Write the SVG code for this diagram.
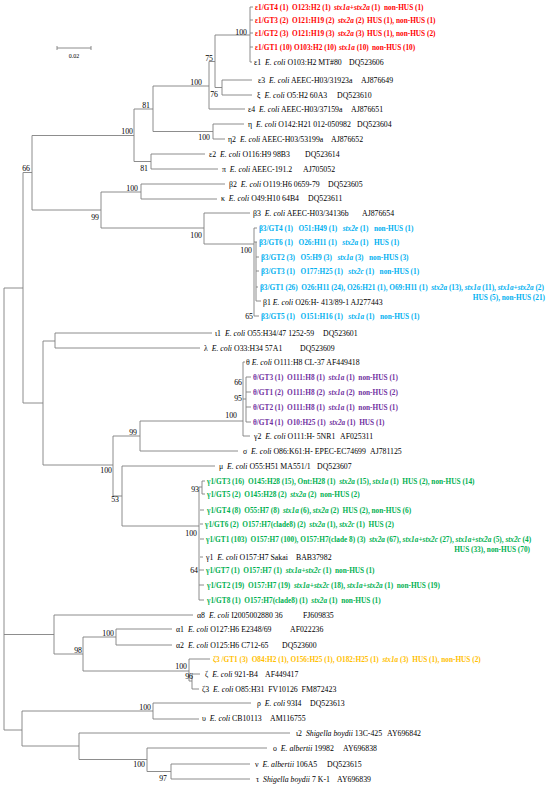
<svg xmlns="http://www.w3.org/2000/svg" width="550" height="789" viewBox="0 0 550 789">
<style>
.t{font-family:"Liberation Serif","Times New Roman",serif;font-size:7.8px;fill:#000}
.c{font-weight:bold;font-size:7.3px}
.i{font-style:italic}
.r{fill:#ff0000}.b{fill:#00b0f0}.p{fill:#7030a0}.g{fill:#00b050}.o{fill:#ffc000}
.bs{font-family:"Liberation Serif","Times New Roman",serif;font-size:7.8px;fill:#000;text-anchor:end}
.tree{fill:none;stroke:#808080;stroke-width:0.9}
</style>
<rect width="550" height="789" fill="#fff"/>
<g id="scale">
<path class="tree" d="M57 48H91M57 46V50M91 46V50"/>
<text x="74" y="58" class="t" style="font-size:6px" text-anchor="middle">0.02</text>
</g>
<g id="connectors" class="tree">
<path d="M4 288V730M4 288H23M4 634.5H54M4 730H22"/>
<path d="M23 172.5V403M23 172.5H32M23 403H43"/>
<path d="M32 135.5V210M32 135.5H134M32 210H101"/>
<path d="M134 109V161.5M134 109H153M134 161.5H151"/>
<path d="M153 86V131.5M153 86H209M153 131.5H213"/>
<path d="M209 61.5V109M209 61.5H215M209 109H245"/>
<path d="M215 35V87.5M215 35H250M215 87.5H222"/>
<path d="M250 7V62M250 7H253M250 20H253M250 33H253M250 47H253M250 62H252"/>
<path d="M222 80V95M222 80H252M222 95H252"/>
<path d="M213 124V139M213 124H244M213 139H225"/>
<path d="M151 154V169M151 154H205M151 169H218"/>
<path d="M101 192V228M101 192H141M101 228H204"/>
<path d="M141 184V199M141 184H225M141 199H217"/>
<path d="M204 213V244M204 213H250M204 244H254"/>
<path d="M254 228V316M254 228H257M256 242V301M254 242H257M256 257H259M256 271H259M256 287H258M256 301H261M254 316H259"/>
<path d="M43 341V465M43 341H55M43 465H113"/>
<path d="M55 333V348M55 333H212M55 348H200"/>
<path d="M113 436V496M113 436H140M113 496H122"/>
<path d="M140 421V451M140 421H243M140 451H238"/>
<path d="M243 362V436M243 362H245M243 436H250M243 399H246M246 377V422M246 377H251M246 392H251M246 407H251M246 422H251"/>
<path d="M122 466V526M122 466H215M122 526H199"/>
<path d="M199 487V600M199 487H202M202 481V494M202 481H205M202 494H205M200 510H204M200 524H203M200 539H204M200 557H203M199 570H204M199 585H204M199 600H204"/>
<path d="M54 615V654M54 615H193M54 654H83"/>
<path d="M83 637V671M83 637H116M83 671H189"/>
<path d="M116 629V645M116 629H172M116 645H172"/>
<path d="M189 659V681M189 659H210M189 681H192"/>
<path d="M192 674V689M192 674H200M192 689H199"/>
<path d="M22 711V746M22 711H153M22 746H79"/>
<path d="M153 703V719M153 703H251M153 719H199"/>
<path d="M79 733V759.5M79 733H290M79 759.5H147"/>
<path d="M147 748V771.5M147 748H267M147 771.5H171"/>
<path d="M171 764V779M171 764H250M171 779H250"/>
</g>
<g id="bootstrap">
<text class="bs" x="247" y="35">100</text>
<text class="bs" x="213" y="61">75</text>
<text class="bs" x="218" y="97">76</text>
<text class="bs" x="202" y="85">100</text>
<text class="bs" x="150" y="108">81</text>
<text class="bs" x="210" y="140">100</text>
<text class="bs" x="133" y="134">100</text>
<text class="bs" x="148" y="171">81</text>
<text class="bs" x="30" y="171">66</text>
<text class="bs" x="138" y="191">100</text>
<text class="bs" x="99" y="220">99</text>
<text class="bs" x="202" y="238">100</text>
<text class="bs" x="252" y="253">100</text>
<text class="bs" x="253" y="319">65</text>
<text class="bs" x="242" y="385">66</text>
<text class="bs" x="242" y="401">95</text>
<text class="bs" x="237" y="418">100</text>
<text class="bs" x="137" y="435">99</text>
<text class="bs" x="112" y="473">100</text>
<text class="bs" x="119" y="502">53</text>
<text class="bs" x="199" y="492">93</text>
<text class="bs" x="197" y="536">100</text>
<text class="bs" x="198" y="573">64</text>
<text class="bs" x="114" y="636">100</text>
<text class="bs" x="82" y="653">98</text>
<text class="bs" x="187" y="669">100</text>
<text class="bs" x="193" y="679">96</text>
<text class="bs" x="151" y="710">100</text>
<text class="bs" x="145" y="767">100</text>
<text class="bs" x="167" y="781">97</text>
</g>
<g id="eps1_GT4"><text class="t c r" y="10"><tspan x="255">ε1/GT4 (1)</tspan><tspan x="292">O123:H2 (1)</tspan><tspan x="334"><tspan class="i">stx1a+stx2a</tspan> (1)</tspan><tspan x="384">non-HUS (1)</tspan></text></g>
<g id="eps1_GT3"><text class="t c r" y="23"><tspan x="255">ε1/GT3 (2)</tspan><tspan x="292">O121:H19 (2)</tspan><tspan x="338"><tspan class="i">stx2a</tspan> (2)</tspan><tspan x="367">HUS (1), non-HUS (1)</tspan></text></g>
<g id="eps1_GT2"><text class="t c r" y="36"><tspan x="255">ε1/GT2 (3)</tspan><tspan x="292">O121:H19 (3)</tspan><tspan x="338"><tspan class="i">stx2a</tspan> (3)</tspan><tspan x="367">HUS (1), non-HUS (2)</tspan></text></g>
<g id="eps1_GT1"><text class="t c r" y="50"><tspan x="255">ε1/GT1 (10)</tspan><tspan x="294">O103:H2 (10)</tspan><tspan x="339"><tspan class="i">stx1a</tspan> (10)</tspan><tspan x="372">non-HUS (10)</tspan></text></g>
<g id="eps1"><text class="t" xml:space="preserve" x="254" y="65">ε1  <tspan class="i">E. coli</tspan> O103:H2 MT#80<tspan x="349">DQ523606</tspan></text></g>
<g id="eps3"><text class="t" xml:space="preserve" x="258" y="83">ε3  <tspan class="i">E. coli</tspan> AEEC-H03/31923a<tspan x="361">AJ876649</tspan></text></g>
<g id="xi"><text class="t" xml:space="preserve" x="257" y="98">ξ  <tspan class="i">E. coli</tspan> O5:H2 60A3<tspan x="337">DQ523610</tspan></text></g>
<g id="eps4"><text class="t" xml:space="preserve" x="248" y="112">ε4  <tspan class="i">E. coli</tspan> AEEC-H03/37159a<tspan x="351">AJ876651</tspan></text></g>
<g id="eta"><text class="t" xml:space="preserve" x="248" y="127">η  <tspan class="i">E. coli</tspan> O142:H21 012-050982<tspan x="357">DQ523604</tspan></text></g>
<g id="eta2"><text class="t" xml:space="preserve" x="228" y="142">η2  <tspan class="i">E. coli</tspan> AEEC-H03/53199a<tspan x="331">AJ876652</tspan></text></g>
<g id="eps2"><text class="t" xml:space="preserve" x="209" y="157">ε2  <tspan class="i">E. coli</tspan> O116:H9 98B3<tspan x="305">DQ523614</tspan></text></g>
<g id="pi"><text class="t" xml:space="preserve" x="222" y="172">π  <tspan class="i">E. coli</tspan> AEEC-191.2<tspan x="303">AJ705052</tspan></text></g>
<g id="beta2"><text class="t" xml:space="preserve" x="229" y="187">β2  <tspan class="i">E. coli</tspan> O119:H6 0659-79<tspan x="328">DQ523605</tspan></text></g>
<g id="kappa"><text class="t" xml:space="preserve" x="221" y="201">κ  <tspan class="i">E. coli</tspan> O49:H10 64B4<tspan x="308">DQ523611</tspan></text></g>
<g id="beta3"><text class="t" xml:space="preserve" x="253" y="216">β3  <tspan class="i">E. coli</tspan> AEEC-H03/34136b<tspan x="362">AJ876654</tspan></text></g>
<g id="beta3_GT4"><text class="t c b" xml:space="preserve" x="259" y="231">β3/GT4 (1)   O51:H49 (1)   <tspan class="i">stx2e</tspan> (1)   non-HUS (1)</text></g>
<g id="beta3_GT6"><text class="t c b" xml:space="preserve" x="259" y="245">β3/GT6 (1)   O26:H11 (1)   <tspan class="i">stx2a</tspan> (1)   HUS (1)</text></g>
<g id="beta3_GT2"><text class="t c b" xml:space="preserve" x="261" y="260">β3/GT2 (3)   O5:H9 (3)   <tspan class="i">stx1a</tspan> (3)   non-HUS (3)</text></g>
<g id="beta3_GT3"><text class="t c b" xml:space="preserve" x="261" y="274">β3/GT3 (1)   O177:H25 (1)   <tspan class="i">stx2c</tspan> (1)   non-HUS (1)</text></g>
<g id="beta3_GT1"><text class="t c b" xml:space="preserve" x="260" y="290">β3/GT1 (26)  O26:H11 (24), O26:H21 (1), O69:H11 (1)  <tspan class="i">stx2a</tspan> (13), <tspan class="i">stx1a</tspan> (11), <tspan class="i">stx1a+stx2a</tspan> (2)</text>
<text class="t c b" x="545" y="300" text-anchor="end">HUS (5), non-HUS (21)</text></g>
<g id="beta1"><text class="t" xml:space="preserve" x="263" y="305">β1 <tspan class="i">E. coli</tspan> O26:H- 413/89-1 AJ277443</text></g>
<g id="beta3_GT5"><text class="t c b" xml:space="preserve" x="261" y="319">β3/GT5 (1)   O151:H16 (1)   <tspan class="i">stx1a</tspan> (1)   non-HUS (1)</text></g>
<g id="iota1"><text class="t" xml:space="preserve" x="215" y="336">ι1  <tspan class="i">E. coli</tspan> O55:H34/47 1252-59<tspan x="323">DQ523601</tspan></text></g>
<g id="lambda"><text class="t" xml:space="preserve" x="204" y="351">λ  <tspan class="i">E. coli</tspan> O33:H34 57A1<tspan x="300">DQ523609</tspan></text></g>
<g id="theta"><text class="t" xml:space="preserve" x="246" y="365">θ <tspan class="i">E. coli</tspan> O111:H8 CL-37 AF449418</text></g>
<g id="theta_GT3"><text class="t c p" xml:space="preserve" x="253" y="380">θ/GT3 (1)  O111:H8 (1)  <tspan class="i">stx1a</tspan> (1)  non-HUS (1)</text></g>
<g id="theta_GT1"><text class="t c p" xml:space="preserve" x="253" y="395">θ/GT1 (2)  O111:H8 (2)  <tspan class="i">stx1a</tspan> (2)  non-HUS (2)</text></g>
<g id="theta_GT2"><text class="t c p" xml:space="preserve" x="253" y="410">θ/GT2 (1)  O111:H8 (1)  <tspan class="i">stx1a</tspan> (1)  non-HUS (1)</text></g>
<g id="theta_GT4"><text class="t c p" xml:space="preserve" x="253" y="425">θ/GT4 (1)  O10:H25 (1)  <tspan class="i">stx2a</tspan> (1)  HUS (1)</text></g>
<g id="gamma2"><text class="t" xml:space="preserve" x="254" y="439">γ2  <tspan class="i">E. coli</tspan> O111:H- 5NR1<tspan x="340">AF025311</tspan></text></g>
<g id="sigma"><text class="t" xml:space="preserve" x="243" y="454">σ  <tspan class="i">E. coli</tspan> O86:K61:H- EPEC-EC74699<tspan x="370">AJ781125</tspan></text></g>
<g id="mu"><text class="t" xml:space="preserve" x="219" y="469">μ  <tspan class="i">E. coli</tspan> O55:H51 MA551/1<tspan x="317">DQ523607</tspan></text></g>
<g id="gamma1_GT3"><text class="t c g" xml:space="preserve" x="207" y="484">γ1/GT3 (16)  O145:H28 (15), Ont:H28 (1)  <tspan class="i">stx2a</tspan> (15), <tspan class="i">stx1a</tspan> (1)  HUS (2), non-HUS (14)</text></g>
<g id="gamma1_GT5"><text class="t c g" xml:space="preserve" x="207" y="497">γ1/GT5 (2)  O145:H28 (2)  <tspan class="i">stx2a</tspan> (2)  non-HUS (2)</text></g>
<g id="gamma1_GT4"><text class="t c g" xml:space="preserve" x="207" y="513">γ1/GT4 (8)  O55:H7 (8)  <tspan class="i">stx1a</tspan> (6), <tspan class="i">stx2a</tspan> (2)  HUS (2), non-HUS (6)</text></g>
<g id="gamma1_GT6"><text class="t c g" xml:space="preserve" x="205" y="527">γ1/GT6 (2)  O157:H7(clade8) (2)  <tspan class="i">stx2a</tspan> (1), <tspan class="i">stx2c</tspan> (1)  HUS (2)</text></g>
<g id="gamma1_GT1"><text class="t c g" xml:space="preserve" x="206" y="542">γ1/GT1 (103)  O157:H7 (100), O157:H7(clade 8) (3)  <tspan class="i">stx2a</tspan> (67), <tspan class="i">stx1a+stx2c</tspan> (27), <tspan class="i">stx1a+stx2a</tspan> (5), <tspan class="i">stx2c</tspan> (4)</text>
<text class="t c g" x="530" y="552" text-anchor="end">HUS (33), non-HUS (70)</text></g>
<g id="gamma1"><text class="t" xml:space="preserve" x="206" y="560">γ1  <tspan class="i">E. coli</tspan> O157:H7 Sakai<tspan x="296">BAB37982</tspan></text></g>
<g id="gamma1_GT7"><text class="t c g" xml:space="preserve" x="206" y="573">γ1/GT7 (1)  O157:H7 (1)  <tspan class="i">stx1a+stx2c</tspan> (1)  non-HUS (1)</text></g>
<g id="gamma1_GT2"><text class="t c g" xml:space="preserve" x="207" y="588">γ1/GT2 (19)  O157:H7 (19)  <tspan class="i">stx1a+stx2c</tspan> (18), <tspan class="i">stx1a+stx2a</tspan> (1)  non-HUS (19)</text></g>
<g id="gamma1_GT8"><text class="t c g" xml:space="preserve" x="207" y="603">γ1/GT8 (1)  O157:H7(clade8) (1)  <tspan class="i">stx2a</tspan> (1)  non-HUS (1)</text></g>
<g id="alpha8"><text class="t" xml:space="preserve" x="197" y="618">α8  <tspan class="i">E. coli</tspan> I2005002880 36<tspan x="303">FJ609835</tspan></text></g>
<g id="alpha1"><text class="t" xml:space="preserve" x="176" y="632">α1  <tspan class="i">E. coli</tspan> O127:H6 E2348/69<tspan x="290">AF022236</tspan></text></g>
<g id="alpha2"><text class="t" xml:space="preserve" x="176" y="648">α2  <tspan class="i">E. coli</tspan> O125:H6 C712-65<tspan x="282">DQ523600</tspan></text></g>
<g id="zeta3_GT1"><text class="t c o" xml:space="preserve" x="213" y="662">ζ3 /GT1 (3)  O84:H2 (1), O156:H25 (1), O182:H25 (1)  <tspan class="i">stx1a</tspan> (3)  HUS (1), non-HUS (2)</text></g>
<g id="zeta"><text class="t" xml:space="preserve" x="205" y="677">ζ  <tspan class="i">E. coli</tspan> 921-B4<tspan x="265">AF449417</tspan></text></g>
<g id="zeta3"><text class="t" xml:space="preserve" x="202" y="692">ζ3  <tspan class="i">E. coli</tspan> O85:H31  FV10126  FM872423</text></g>
<g id="rho"><text class="t" xml:space="preserve" x="257" y="706">ρ  <tspan class="i">E. coli</tspan> 93I4<tspan x="310">DQ523613</tspan></text></g>
<g id="upsilon"><text class="t" xml:space="preserve" x="202" y="721">υ  <tspan class="i">E. coli</tspan> CB10113<tspan x="270">AM116755</tspan></text></g>
<g id="iota2"><text class="t" xml:space="preserve" x="296" y="736">ι2  <tspan class="i">Shigella boydii</tspan> 13C-425<tspan x="387">AY696842</tspan></text></g>
<g id="omicron"><text class="t" xml:space="preserve" x="273" y="751">ο  <tspan class="i">E. albertii</tspan> 19982<tspan x="343">AY696838</tspan></text></g>
<g id="nu"><text class="t" xml:space="preserve" x="255" y="767">ν  <tspan class="i">E. albertii</tspan> 106A5<tspan x="327">DQ523615</tspan></text></g>
<g id="tau"><text class="t" xml:space="preserve" x="256" y="782">τ  <tspan class="i">Shigella boydii</tspan> 7 K-1<tspan x="337">AY696839</tspan></text></g>
</svg>
